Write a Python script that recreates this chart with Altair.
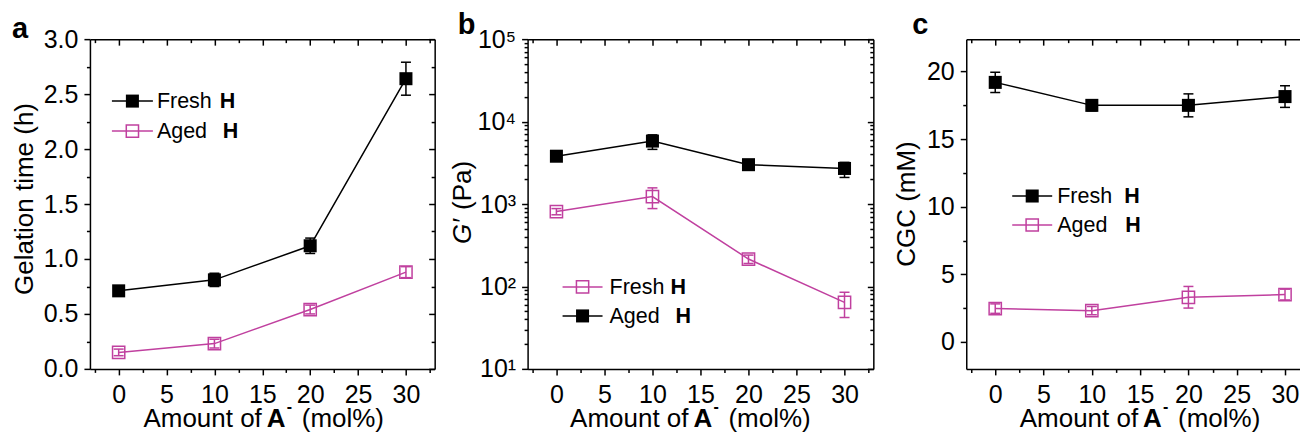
import altair as alt
import pandas as pd

FONT = "Liberation Sans"
BLACK = "#000000"
PINK = "#C0409F"

# ---------------- data ----------------
amount = [0, 10, 20, 30]

# panel a: gelation time (h)
gel_black = [0.71, 0.81, 1.12, 2.64]
gel_black_err = [0.04, 0.06, 0.07, 0.15]
gel_pink = [0.15, 0.23, 0.54, 0.88]
gel_pink_err = [0.03, 0.04, 0.04, 0.05]

# panel b: G' (Pa)
gp_black = [3800, 5800, 3000, 2700]
gp_black_lo = [3300, 4600, 2700, 2100]
gp_black_hi = [4400, 6900, 3300, 3200]
gp_pink = [810, 1230, 215, 64]
gp_pink_lo = [740, 880, 190, 42]
gp_pink_hi = [880, 1570, 240, 85]

# panel c: CGC (mM)
cgc_black = [19.2, 17.5, 17.5, 18.15]
cgc_black_err = [0.75, 0.4, 0.85, 0.8]
cgc_pink = [2.46, 2.31, 3.3, 3.5]
cgc_pink_err = [0.35, 0.3, 0.8, 0.4]

# tick positions
x_major = [0, 5, 10, 15, 20, 25, 30]
x_minor = [-2.5, 2.5, 7.5, 12.5, 17.5, 22.5, 27.5, 32.5]
a_y_major = [0.0, 0.5, 1.0, 1.5, 2.0, 2.5, 3.0]
a_y_minor = [0.25, 0.75, 1.25, 1.75, 2.25, 2.75]
b_y_major = [10, 100, 1000, 10000, 100000]
b_y_minor = [20, 30, 40, 50, 60, 70, 80, 90,
             200, 300, 400, 500, 600, 700, 800, 900,
             2000, 3000, 4000, 5000, 6000, 7000, 8000, 9000,
             20000, 30000, 40000, 50000, 60000, 70000, 80000, 90000]
c_y_major = [0, 5, 10, 15, 20]
c_y_minor = [2.5, 7.5, 12.5, 17.5]

b_label_expr = ("datum.value == 10 ? '10\u00b9' : datum.value == 100 ? '10\u00b2' : "
                "datum.value == 1000 ? '10\u00b3' : datum.value == 10000 ? '10\u2074' : '10\u2075'")


def frame(by, blo, bhi, py, plo, phi):
    rows = []
    for s, ys, los, his in (("black", by, blo, bhi), ("pink", py, plo, phi)):
        for x, y, lo, hi in zip(amount, ys, los, his):
            rows.append({"x": x, "y": y, "lo": lo, "hi": hi, "s": s})
    return pd.DataFrame(rows)


df_a = frame(gel_black, [v - e for v, e in zip(gel_black, gel_black_err)],
             [v + e for v, e in zip(gel_black, gel_black_err)],
             gel_pink, [v - e for v, e in zip(gel_pink, gel_pink_err)],
             [v + e for v, e in zip(gel_pink, gel_pink_err)])
df_b = frame(gp_black, gp_black_lo, gp_black_hi, gp_pink, gp_pink_lo, gp_pink_hi)
df_c = frame(cgc_black, [v - e for v, e in zip(cgc_black, cgc_black_err)],
             [v + e for v, e in zip(cgc_black, cgc_black_err)],
             cgc_pink, [v - e for v, e in zip(cgc_pink, cgc_pink_err)],
             [v + e for v, e in zip(cgc_pink, cgc_pink_err)])

one = pd.DataFrame({"k": [0]})


def axis(orient, values, major, labels=False, fmt=None, label_expr=None, domain=False):
    size = 6 if major else 3.5
    tick = {"expr": f"-{size}"} if orient in ("top", "right") else size
    kw = dict(orient=orient, values=values, tickSize=tick, tickWidth=1.5,
              tickColor=BLACK, domain=domain, domainColor=BLACK, domainWidth=1.5,
              grid=False, title=None, labels=labels)
    if labels:
        kw.update(labelFont=FONT, labelFontSize=25, labelColor=BLACK,
                  labelPadding=8 if orient == "bottom" else 6,
                  labelFlush=False, labelOverlap=False, labelBound=False)
    if fmt:
        kw["format"] = fmt
    if label_expr:
        kw["labelExpr"] = label_expr
    return alt.Axis(**kw)


def txt(s, x, y, size=26, bold=False, italic=False, align="left", baseline="alphabetic", angle=0):
    mk = dict(font=FONT, fontSize=size, color=BLACK, align=align, baseline=baseline)
    if bold:
        mk["fontWeight"] = "bold"
    if italic:
        mk["fontStyle"] = "italic"
    if angle:
        mk["angle"] = angle
    return alt.Chart(one).mark_text(**mk).encode(
        x=alt.value(x), y=alt.value(y), text=alt.value(s))


def legend_row(y, color, filled, label, h_x, x1, x2, tx):
    line = alt.Chart(one).mark_rule(color=color, strokeWidth=1.5).encode(
        x=alt.value(x1), x2=alt.value(x2), y=alt.value(y))
    pt = alt.Chart(one).mark_point(shape="square", size=170 if filled else 150,
                                   filled=filled, color=color, opacity=1,
                                   strokeWidth=1.5).encode(
        x=alt.value((x1 + x2) / 2), y=alt.value(y))
    t1 = txt(label, tx, y + 1, size=21.5, baseline="middle")
    t2 = txt("H", h_x, y + 1, size=21.5, bold=True, baseline="middle")
    return [line, pt, t1, t2]


def panel(df, w, h, xdom, ydom, ytype, ymaj, ymin, yfmt, ylab_expr, right_domain, extras):
    xs = alt.Scale(domain=xdom, nice=False, zero=False)
    ys = alt.Scale(type=ytype, domain=ydom, nice=False) if ytype == "log" else \
        alt.Scale(domain=ydom, nice=False, zero=False)
    color = alt.Color("s:N", scale=alt.Scale(domain=["black", "pink"], range=[BLACK, PINK]),
                      legend=None)

    def X(ax):
        return alt.X("x:Q", scale=xs, axis=ax)

    def Y(f, ax):
        return alt.Y(f + ":Q", scale=ys, axis=ax)

    base = alt.Chart(df)
    err = base.mark_rule(strokeWidth=1.5).encode(
        x=X(axis("bottom", x_major, True, labels=True, fmt="d", domain=True)),
        y=Y("lo", axis("left", ymaj, True, labels=True, fmt=yfmt, label_expr=ylab_expr, domain=True)),
        y2="hi:Q", color=color)
    cap_lo = base.mark_tick(orient="horizontal", size=10, thickness=1.5, opacity=1).encode(
        x=X(axis("bottom", x_minor, False)),
        y=Y("lo", axis("left", ymin, False)), color=color)
    cap_hi = base.mark_tick(orient="horizontal", size=10, thickness=1.5, opacity=1).encode(
        x=X(axis("top", x_major, True, domain=True)),
        y=Y("hi", axis("right", ymaj, True, domain=right_domain)), color=color)
    line = base.mark_line(strokeWidth=1.5).encode(
        x=X(axis("top", x_minor, False)),
        y=Y("y", axis("right", ymin, False)), color=color, detail="s:N")
    pts_b = base.transform_filter("datum.s == 'black'").mark_point(
        shape="square", size=170, filled=True, color=BLACK, opacity=1).encode(
        x=X(None), y=Y("y", None))
    pts_p = base.transform_filter("datum.s == 'pink'").mark_point(
        shape="square", size=150, filled=False, color=PINK, opacity=1, strokeWidth=1.5).encode(
        x=X(None), y=Y("y", None))
    return alt.layer(err, cap_lo, cap_hi, line, pts_b, pts_p, *extras).resolve_axis(
        x="independent", y="independent").properties(width=w, height=h)


def xtitle(h, dx):
    return [
        txt("Amount of", 172 + dx, h + 58, align="right"),
        txt("A", 177 + dx, h + 58, bold=True),
        txt("-", 197 + dx, h + 43, size=16, bold=True),
        txt("(mol%)", 212 + dx, h + 58),
    ]


H = 330

extras_a = ([txt("a", -78, -1, size=29, bold=True),
             txt("Gelation time (h)", -65, 160, align="center", baseline="middle", angle=270)]
            + xtitle(H, 0)
            + legend_row(62, BLACK, True, "Fresh", 130, 22, 63, 67)
            + legend_row(92, PINK, False, "Aged", 133, 22, 63, 67))

extras_b = ([txt("b", -70, -5, size=29, bold=True),
             txt("G\u2032", -65, 205, italic=True, baseline="middle", angle=270),
             txt("(Pa)", -65, 171, baseline="middle", angle=270)]
            + xtitle(H, -11)
            + legend_row(248, PINK, False, "Fresh", 143, 35, 75, 82)
            + legend_row(277, BLACK, True, "Aged", 148, 35, 75, 82))

extras_c = ([txt("c", -54, -5, size=29, bold=True),
             txt("CGC (mM)", -59, 165, align="center", baseline="middle", angle=270)]
            + xtitle(H, 0)
            + legend_row(157, BLACK, True, "Fresh", 158, 46, 86, 91)
            + legend_row(186, PINK, False, "Aged", 159, 46, 86, 91))

pa = panel(df_a, 345, H, [-3, 33], [0, 3.0], "linear", a_y_major, a_y_minor, ".1f", None, True, extras_a)
pb = panel(df_b, 346, H, [-3, 33], [10, 100000], "log", b_y_major, b_y_minor, None, b_label_expr, True, extras_b)
pc = panel(df_c, 348, H, [-3, 33], [-2, 22.4], "linear", c_y_major, c_y_minor, "d", None, False, extras_c)

chart = alt.hconcat(alt.hconcat(pa, pb, spacing=14), pc, spacing=20).properties(
    padding={"left": 4, "top": 3, "right": -15, "bottom": 0},
    background="white",
).configure_view(stroke=None)

chart.save("out.html", embed_options={"renderer": "svg", "actions": False})
